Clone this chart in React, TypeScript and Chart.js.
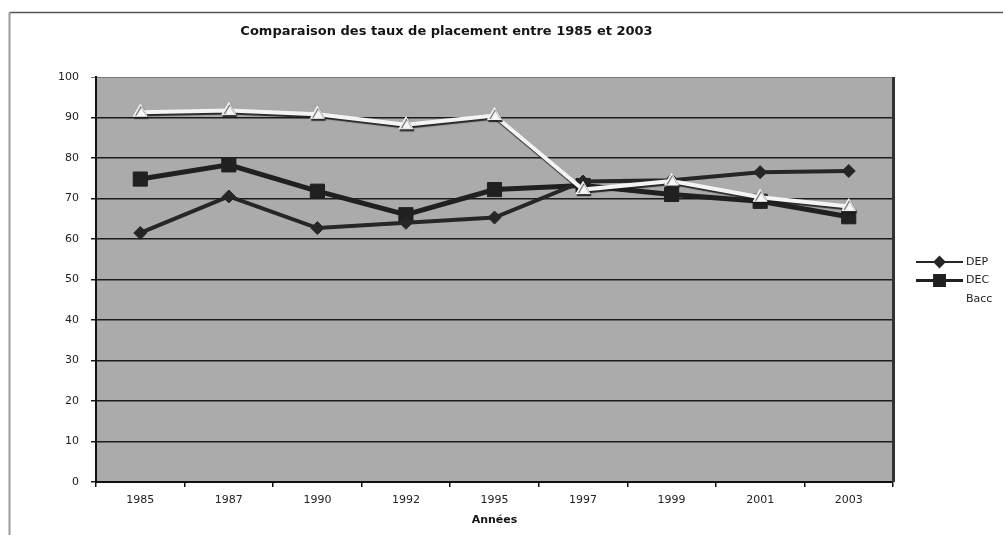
import React, { useEffect, useRef } from 'react';
import { Chart, registerables } from 'chart.js';
import { drawPoint } from 'chart.js/helpers';

Chart.register(...registerables);

const chartTitle = 'Comparaison des taux de placement entre 1985 et 2003';
const xAxisTitle = 'Années';
const years = ['1985', '1987', '1990', '1992', '1995', '1997', '1999', '2001', '2003'];
const depValues = [61.5, 70.5, 62.7, 64.0, 65.3, 74.2, 74.5, 76.5, 76.8];
const decValues = [74.8, 78.3, 71.8, 66.0, 72.2, 73.2, 71.0, 69.3, 65.5];
const baccValues = [91.3, 91.7, 90.8, 88.2, 90.5, 72.2, 74.3, 70.3, 68.0];
const seriesNames = ['DEP', 'DEC', 'Bacc'];
const yMin = 0;
const yMax = 100;
const yStep = 10;

const FONT = '"DejaVu Sans", Verdana, sans-serif';

const decorPlugin = {
  id: 'decor',
  beforeDraw(chart: any) {
    const { ctx, chartArea } = chart;
    ctx.save();
    ctx.strokeStyle = '#555';
    ctx.lineWidth = 1.5;
    ctx.beginPath();
    ctx.moveTo(9.5, 12.5);
    ctx.lineTo(1003, 12.5);
    ctx.stroke();
    ctx.strokeStyle = '#9a9a9a';
    ctx.lineWidth = 2;
    ctx.beginPath();
    ctx.moveTo(9.5, 12.5);
    ctx.lineTo(9.5, 535);
    ctx.stroke();
    ctx.fillStyle = '#ababab';
    ctx.fillRect(chartArea.left, chartArea.top, chartArea.right - chartArea.left, chartArea.bottom - chartArea.top);
    ctx.restore();
  },
  beforeDatasetsDraw(chart: any) {
    const { ctx, chartArea } = chart;
    ctx.save();
    ctx.strokeStyle = '#333';
    ctx.lineWidth = 3;
    ctx.beginPath();
    ctx.moveTo(chartArea.right + 0.5, chartArea.top);
    ctx.lineTo(chartArea.right + 0.5, chartArea.bottom);
    ctx.stroke();
    ctx.restore();
  },
  beforeDatasetDraw(chart: any, args: any) {
    if (args.index === 2) {
      const ctx = chart.ctx;
      ctx.save();
      ctx.shadowColor = 'rgba(25,25,25,0.9)';
      ctx.shadowOffsetX = 1;
      ctx.shadowOffsetY = 2;
      ctx.shadowBlur = 1;
    }
  },
  afterDatasetDraw(chart: any, args: any) {
    if (args.index === 2) {
      chart.ctx.restore();
    }
  },
  afterDraw(chart: any) {
    const { ctx } = chart;
    const rows = [262, 280.5, 299];
    ctx.save();
    chart.data.datasets.forEach((ds: any, i: number) => {
      const y = rows[i];
      if (i < 2) {
        ctx.strokeStyle = ds.borderColor;
        ctx.lineWidth = i === 0 ? 2 : 3;
        ctx.beginPath();
        ctx.moveTo(916, y);
        ctx.lineTo(963, y);
        ctx.stroke();
        ctx.fillStyle = ds.pointBackgroundColor;
        ctx.strokeStyle = ds.pointBorderColor;
        drawPoint(ctx, {
          pointStyle: ds.pointStyle,
          radius: i === 0 ? 5 : 7,
          rotation: 0,
          borderWidth: 1,
        } as any, 939.5, y);
      }
      ctx.fillStyle = '#222';
      ctx.font = `11px ${FONT}`;
      ctx.textBaseline = 'middle';
      ctx.textAlign = 'left';
      ctx.fillText(ds.label, 966, y);
    });
    ctx.restore();
  },
};

export default function App() {
  const canvasRef = useRef<HTMLCanvasElement | null>(null);

  useEffect(() => {
    document.body.style.margin = '0';
    const canvas = canvasRef.current;
    if (!canvas) return;
    const chart = new Chart(canvas, {
      type: 'line',
      data: {
        labels: years,
        datasets: [
          {
            label: seriesNames[0],
            data: depValues,
            borderColor: '#262626',
            backgroundColor: '#262626',
            borderWidth: 4,
            pointStyle: 'rectRot',
            pointRadius: 6.5,
            pointBackgroundColor: '#262626',
            pointBorderColor: '#262626',
            pointBorderWidth: 1,
            tension: 0,
            order: 1,
          },
          {
            label: seriesNames[1],
            data: decValues,
            borderColor: '#202020',
            backgroundColor: '#202020',
            borderWidth: 5,
            pointStyle: 'rect',
            pointRadius: 10,
            pointBackgroundColor: '#202020',
            pointBorderColor: '#202020',
            pointBorderWidth: 1,
            tension: 0,
            order: 2,
          },
          {
            label: seriesNames[2],
            data: baccValues,
            borderColor: '#f4f4f4',
            backgroundColor: '#f4f4f4',
            borderWidth: 4,
            pointStyle: 'triangle',
            pointRadius: 8,
            pointBackgroundColor: '#f7f7f7',
            pointBorderColor: '#f7f7f7',
            pointBorderWidth: 1,
            tension: 0,
            order: 0,
          },
        ],
      },
      options: {
        animation: false,
        responsive: false,
        maintainAspectRatio: false,
        layout: { padding: { left: 0, right: 110, top: 0, bottom: 0 } },
        font: { family: FONT },
        plugins: {
          legend: { display: false },
          tooltip: { enabled: false },
          title: {
            display: true,
            text: chartTitle,
            color: '#151515',
            font: { family: FONT, size: 13, weight: 'bold' },
            padding: { top: 24, bottom: 37.4 },
          },
        },
        scales: {
          x: {
            type: 'category',
            offset: true,
            afterFit: (s: any) => { s.height = 53; },
            grid: {
              offset: true,
              drawOnChartArea: false,
              drawTicks: true,
              tickLength: 5,
              color: '#111',
              lineWidth: 1.5,
            },
            border: { display: true, color: '#111', width: 2 },
            ticks: {
              color: '#222',
              font: { family: FONT, size: 11 },
              padding: 7,
              maxRotation: 0,
              autoSkip: false,
            },
            title: {
              display: true,
              text: xAxisTitle,
              color: '#151515',
              font: { family: FONT, size: 11, weight: 'bold' },
              padding: { top: 0, bottom: 8 },
            },
          },
          y: {
            min: yMin,
            max: yMax,
            afterFit: (s: any) => { s.width = 96; },
            grid: {
              drawOnChartArea: true,
              drawTicks: true,
              tickLength: 5,
              color: (c: any) => (c.tick && c.tick.value === yMax ? '#7a7a7a' : '#1c1c1c'),
              lineWidth: (c: any) => (c.tick && c.tick.value === yMax ? 1 : 1.5),
            },
            border: { display: true, color: '#111', width: 2 },
            ticks: {
              stepSize: yStep,
              color: '#222',
              font: { family: FONT, size: 11 },
              padding: 12,
            },
          },
        },
      },
      plugins: [decorPlugin],
    } as any);
    return () => chart.destroy();
  }, []);

  return (
    <div style={{ width: 1003, height: 535, position: 'relative' }}>
      <canvas ref={canvasRef} width={1003} height={535} style={{ width: 1003, height: 535, display: 'block' }} />
    </div>
  );
}
